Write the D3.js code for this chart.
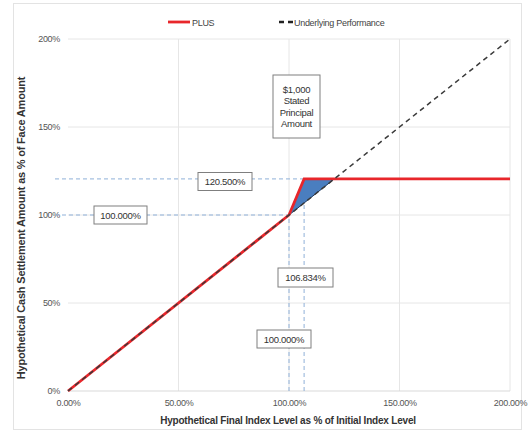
<!DOCTYPE html>
<html><head><meta charset="utf-8">
<script src="https://cdn.jsdelivr.net/npm/d3@7"></script>
<style>
body{margin:0;background:#fff;}
text{font-family:"Liberation Sans",Arial,sans-serif;}
</style></head>
<body>
<svg id="c" width="528" height="433"></svg>
<script>
const xTicks = [0, 50, 100, 150, 200];
const yTicks = [0, 50, 100, 150, 200];
const plusX = [0, 100, 106.834, 200];
const plusY = [0, 100, 120.5, 120.5];
const underX = [0, 200];
const underY = [0, 200];
const triX = [100, 106.834, 120.5];
const triY = [100, 120.5, 120.5];
const cap = 120.5, kink = 106.834, par = 100;
const seriesNames = ["PLUS", "Underlying Performance"];

const svg = d3.select("#c");
const x = d3.scaleLinear().domain([0, 200]).range([68, 510]);
const y = d3.scaleLinear().domain([0, 200]).range([391, 39]);

svg.append("rect").attr("x",13.5).attr("y",3.5).attr("width",508).attr("height",426)
  .attr("fill","none").attr("stroke","#e3e3e3");

// gridlines
svg.append("g").selectAll("line").data(yTicks.filter(d=>d>0)).join("line")
  .attr("x1",x(0)).attr("x2",x(200)).attr("y1",d=>y(d)).attr("y2",d=>y(d))
  .attr("stroke","#e6e6e6").attr("stroke-width",1);
svg.append("g").selectAll("line").data(xTicks.filter(d=>d>0)).join("line")
  .attr("y1",y(0)).attr("y2",y(200)).attr("x1",d=>x(d)).attr("x2",d=>x(d))
  .attr("stroke","#e6e6e6").attr("stroke-width",1);
svg.append("line").attr("x1",x(0)).attr("x2",x(200)).attr("y1",y(0)).attr("y2",y(0))
  .attr("stroke","#d9d9d9");

// axes
const xa = svg.append("g").attr("transform",`translate(0,${y(0)})`)
  .call(d3.axisBottom(x).tickValues(xTicks).tickSize(0).tickPadding(9).tickFormat(d=>d.toFixed(2)+"%"));
xa.select(".domain").remove();
xa.selectAll("text").attr("font-size",9).attr("fill","#555").attr("letter-spacing","-0.3");
const ya = svg.append("g").attr("transform",`translate(${x(0)},0)`)
  .call(d3.axisLeft(y).tickValues(yTicks).tickSize(0).tickPadding(8).tickFormat(d=>d+"%"));
ya.select(".domain").remove();
ya.selectAll("text").attr("font-size",9).attr("fill","#555").attr("letter-spacing","-0.3");

// blue dashed reference lines
const ref = svg.append("g").attr("stroke","#8fb0d8").attr("stroke-width",1).attr("stroke-dasharray","4,3");
ref.append("line").attr("x1",55).attr("x2",x(kink)).attr("y1",y(cap)).attr("y2",y(cap));
ref.append("line").attr("x1",55).attr("x2",x(par)).attr("y1",y(par)).attr("y2",y(par));
ref.append("line").attr("x1",x(par)).attr("x2",x(par)).attr("y1",y(0)).attr("y2",y(par));
ref.append("line").attr("x1",x(kink)).attr("x2",x(kink)).attr("y1",y(0)).attr("y2",y(cap));

// triangle
const tri = triX.map((d,i)=>[x(d), y(triY[i])]);
svg.append("path").attr("d", d3.line()(tri)+"Z").attr("fill","#4a7ebf").attr("stroke","#1f3a5f").attr("stroke-width",1);

// PLUS line
const line = d3.line();
svg.append("path").attr("d", line(plusX.map((d,i)=>[x(d),y(plusY[i])])))
  .attr("fill","none").attr("stroke","#e8262b").attr("stroke-width",2.8);
// underlying
svg.append("path").attr("d", line(underX.map((d,i)=>[x(d),y(underY[i])])))
  .attr("fill","none").attr("stroke","#3a3a3a").attr("stroke-width",1.5).attr("stroke-dasharray","5,4");

// labels
function box(cx, cy, lines, w, h){
  const g = svg.append("g");
  g.append("rect").attr("x",cx-w/2).attr("y",cy-h/2).attr("width",w).attr("height",h)
    .attr("fill","#fff").attr("stroke","#7f7f7f").attr("stroke-width",1);
  const lh = 11.5;
  lines.forEach((t,i)=>{
    g.append("text").attr("x",cx).attr("y",cy-(lines.length-1)*lh/2+i*lh+3.5)
      .attr("text-anchor","middle").attr("font-size",9.5).attr("fill","#333").attr("letter-spacing","-0.3").text(t);
  });
}
box(225, 181.5, [cap.toFixed(3)+"%"], 54, 18);
box(120.5, 215, [par.toFixed(3)+"%"], 53, 18);
box(305.5, 277.5, [kink.toFixed(3)+"%"], 55, 19);
box(284, 339, [par.toFixed(3)+"%"], 54, 18);
box(296.5, 106.5, ["$1,000","Stated","Principal","Amount"], 47, 63);

// legend
svg.append("line").attr("x1",168).attr("x2",190).attr("y1",22).attr("y2",22).attr("stroke","#e8262b").attr("stroke-width",2.8);
svg.append("text").attr("x",192).attr("y",25.5).attr("font-size",9).attr("fill","#444").attr("letter-spacing","-0.3").text(seriesNames[0]);
svg.append("line").attr("x1",279).attr("x2",294).attr("y1",22).attr("y2",22).attr("stroke","#222").attr("stroke-width",2.5).attr("stroke-dasharray","5,4");
svg.append("text").attr("x",294).attr("y",25.5).attr("font-size",9).attr("fill","#444").attr("letter-spacing","-0.3").text(seriesNames[1]);

// axis titles
svg.append("text").attr("x",288).attr("y",424).attr("text-anchor","middle").attr("font-size",10)
  .attr("font-weight","bold").attr("fill","#333").attr("letter-spacing","-0.2").text("Hypothetical Final Index Level as % of Initial Index Level");
svg.append("text").attr("transform","translate(25,228) rotate(-90)").attr("text-anchor","middle").attr("font-size",11)
  .attr("font-weight","bold").attr("fill","#333").attr("letter-spacing","-0.2").text("Hypothetical Cash Settlement Amount as % of Face Amount");
</script>
</body></html>
